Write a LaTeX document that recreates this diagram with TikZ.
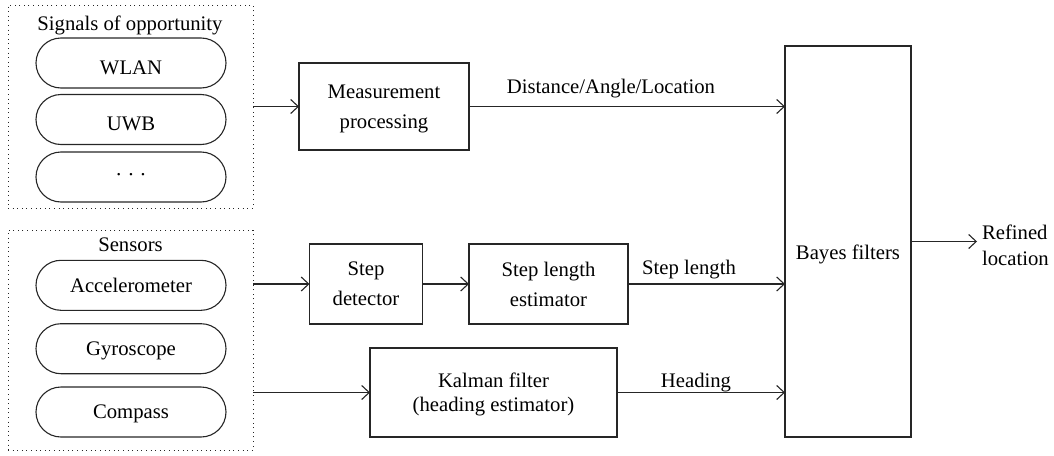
\documentclass[tikz,border=0pt]{standalone}
\usepackage{fontspec}
\setmainfont{Liberation Serif}
\usetikzlibrary{arrows.meta,shapes.misc}
\begin{document}
\begin{tikzpicture}[x=1pt,y=-1pt,
  line width=1.1pt, draw=black!85,
  every node/.style={font=\fontsize{20.7}{30}\selectfont, inner sep=0pt, outer sep=0pt},
  grp/.style={draw, dash pattern=on 1pt off 3.6pt, line width=1pt},
  pill/.style={draw, rounded rectangle, minimum width=190pt, minimum height=50pt},
  pillmid/.style={pill, text height=13.7pt, text depth=0pt},
  pilllow/.style={pill, text height=22.6pt, text depth=0pt},
  blk/.style={draw, rectangle, align=center, text depth=0pt},
  lbl/.style={anchor=base},
  arr/.style={-{Straight Barb[length=7.5pt,width=14pt]}}
]
\useasboundingbox (0,0) rectangle (1054,455);

% Signals of opportunity group
\node[grp, minimum width=245pt, minimum height=203pt] (sig) at (130.5,106.5) {};
\node[lbl] (sigttl) at (130,30) {Signals of opportunity};
\node[pilllow] (wlan) at (131,63) {WLAN};
\node[pilllow] (uwb) at (131,119.5) {UWB};
\node[pill] (more) at (131,177) {· · ·};

% Sensors group
\node[grp, minimum width=245pt, minimum height=220pt] (sens) at (130.5,340) {};
\node[lbl] (sensttl) at (130.5,251.7) {Sensors};
\node[pillmid] (acc) at (131,285.3) {Accelerometer};
\node[pillmid] (gyro) at (131,348.7) {Gyroscope};
\node[pillmid] (comp) at (131,412) {Compass};

% Processing blocks
\node[blk, minimum width=170pt, minimum height=87pt] (meas) at (384,106.5) {Measurement\\processing};
\node[blk, minimum width=113pt, minimum height=80pt] (stepdet) at (366,284) {Step\\detector};
\node[blk, minimum width=159pt, minimum height=80pt] (steplen) at (548.5,284) {Step length\\estimator};
\node[blk, minimum width=247pt, minimum height=89pt, font=\fontsize{20.7}{24.4}\selectfont] (kalman) at (493.5,392.5) {Kalman filter\\(heading estimator)};
\node[draw, rectangle, minimum width=126pt, minimum height=391pt, text height=36.6pt, text depth=0pt] (bayes) at (848,241.5) {Bayes filters};
\node[anchor=west, align=left, inner sep=5pt, text depth=0pt, font=\fontsize{20.7}{25.7}\selectfont] (refined) at (977,245.5) {Refined\\location};

% Connectors
\draw[arr] (sig.east |- meas.west) -- (meas.west);
\draw[arr] (meas.east) -- (meas.east -| bayes.west);
\node[lbl] (lbldist) at (611,93.3) {Distance/Angle/Location};

\draw[arr] (sens.east |- stepdet.west) -- (stepdet.west);
\draw[arr] (stepdet.east) -- (steplen.west);
\draw[arr] (steplen.east) -- (steplen.east -| bayes.west);
\node[lbl] (lblstep) at (689,274) {Step length};

\draw[arr] (sens.east |- kalman.west) -- (kalman.west);
\draw[arr] (kalman.east) -- (kalman.east -| bayes.west);
\node[lbl] (lblhead) at (696,387) {Heading};

\draw[arr] (bayes.east) -- (bayes.east -| refined.west);
\end{tikzpicture}
\end{document}
